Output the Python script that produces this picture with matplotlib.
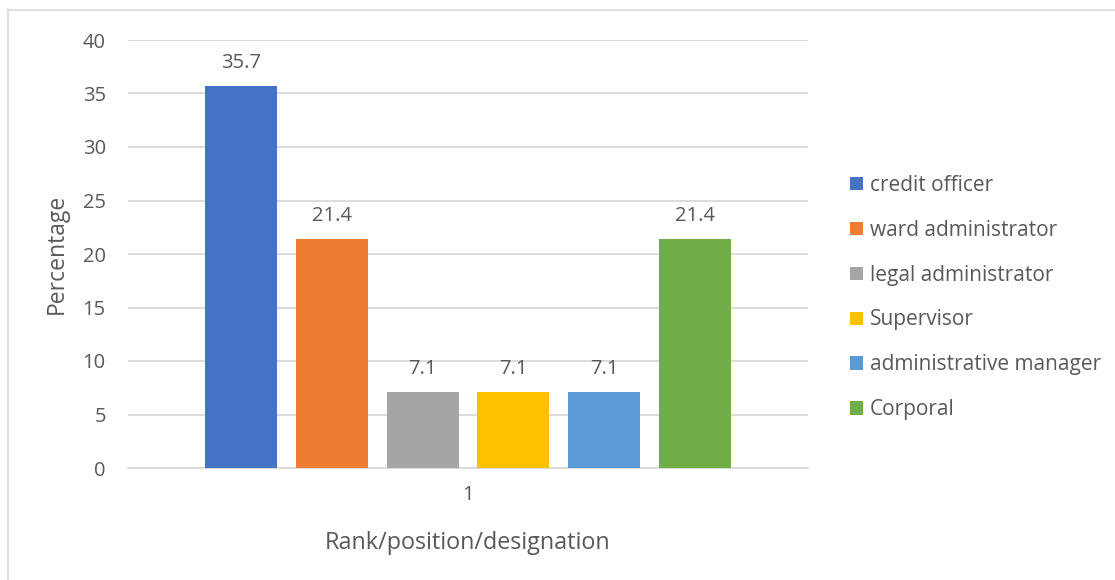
import matplotlib
matplotlib.use("Agg")
import matplotlib.pyplot as plt
from matplotlib.lines import Line2D

categories = ["credit officer", "ward administrator", "legal administrator",
              "Supervisor", "administrative manager", "Corporal"]
percentages = [35.7, 21.4, 7.1, 7.1, 7.1, 21.4]
colors = ["#4472C4", "#ED7D31", "#A5A5A5", "#FFC000", "#5B9BD5", "#70AD47"]
group_labels = ["1"]

text_color = "#595959"
plt.rcParams["font.family"] = ["Open Sans", "DejaVu Sans"]

fig = plt.figure(figsize=(11.15, 5.8), dpi=100)
ax = fig.add_axes([128 / 1115, 112 / 580, 680 / 1115, 428 / 580])

width = 0.106
step = 0.1334
for i, (name, val, col) in enumerate(zip(categories, percentages, colors)):
    x = 1 + (i - 2.5) * step
    ax.bar(x, val, width=width, color=col, label=name, zorder=3)
    ax.text(x, val + 1.2, f"{val}", ha="center", va="bottom",
            fontsize=14.5, color=text_color)

ax.set_xlim(0.5, 1.5)
ax.set_ylim(0, 40)
ax.set_yticks(range(0, 41, 5))
ax.set_xticks([1])
ax.set_xticklabels(group_labels)
ax.grid(axis="y", color="#D9D9D9", linewidth=1.3, zorder=0)
for side in ["top", "right", "left"]:
    ax.spines[side].set_visible(False)
ax.spines["bottom"].set_color("#D9D9D9")
ax.spines["bottom"].set_linewidth(1.3)
ax.tick_params(axis="both", length=0, labelsize=14.5, colors=text_color)
ax.tick_params(axis="y", pad=16)
ax.tick_params(axis="x", pad=12)

ax.set_ylabel("Percentage", fontsize=16.5, color=text_color, labelpad=10)
ax.set_xlabel("Rank/position/designation", fontsize=16.8, color=text_color, labelpad=19)

leg = fig.legend(*ax.get_legend_handles_labels(), loc="center left",
                 bbox_to_anchor=(850 / 1115, 1 - 297.5 / 580), frameon=False,
                 fontsize=15, labelcolor=text_color, handlelength=0.6,
                 handleheight=0.6, handletextpad=0.35, labelspacing=1.15,
                 borderaxespad=0, borderpad=0)

# chart-area outline (left and top edges)
fig.add_artist(Line2D([8 / 1115, 8 / 1115], [0, 1 - 10 / 580],
                      transform=fig.transFigure, color="#D9D9D9", linewidth=1.2))
fig.add_artist(Line2D([8 / 1115, 1], [1 - 10 / 580, 1 - 10 / 580],
                      transform=fig.transFigure, color="#D9D9D9", linewidth=1.2))

fig.savefig("out.png", dpi=100)
